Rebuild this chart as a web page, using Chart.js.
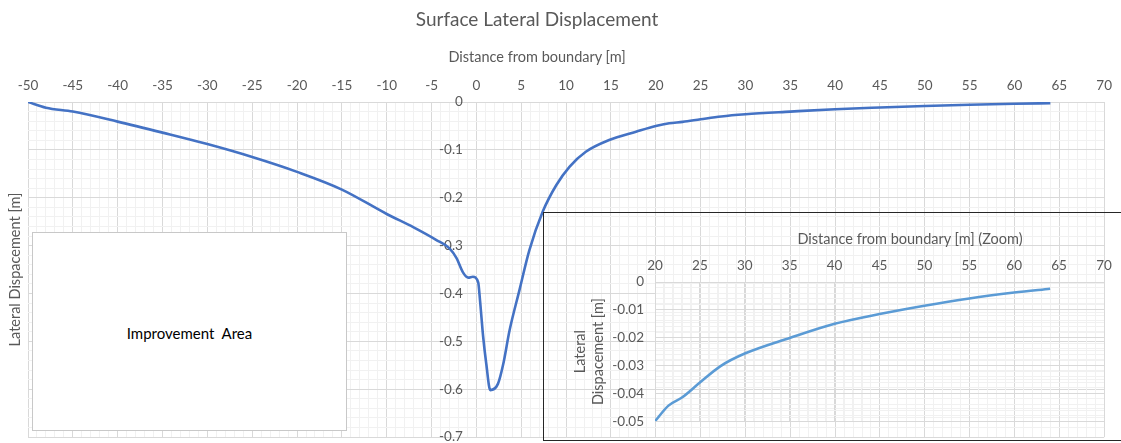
<!DOCTYPE html>
<html><head><meta charset="utf-8">
<script src="https://cdn.jsdelivr.net/npm/chart.js@4.4.1/dist/chart.umd.min.js"></script>
<style>
html,body{margin:0;padding:0;background:#fff;overflow:hidden;}
#wrap{position:relative;width:1121px;height:443px;font-family:Lato,"Open Sans",sans-serif;}
#main{position:absolute;left:0;top:0;}
.txt{position:absolute;color:#595959;white-space:pre;text-align:center;}
#title{left:337px;width:400px;top:8px;font-size:19px;line-height:22px;}
#xtitle{left:337px;width:400px;top:48px;font-size:14.5px;line-height:18px;}
#improve{position:absolute;left:32px;top:232px;width:313px;height:197px;border:1px solid #C8C8C8;background:#fff;}
#improve span{position:absolute;left:0;width:100%;top:91px;text-align:center;font-size:15px;color:#000;white-space:pre;}
#inset{position:absolute;left:543px;top:212px;width:600px;height:227px;border:1px solid #262626;}
#insetCanvas{position:absolute;left:0;top:0;}
#ititle{left:710px;width:400px;top:230px;font-size:14.5px;line-height:18px;}
</style></head>
<body>
<div id="wrap">
  <canvas id="main" width="1121" height="443"></canvas>
  <div class="txt" id="title">Surface Lateral Displacement</div>
  <div class="txt" id="xtitle">Distance from boundary [m]</div>
  <div id="improve"><span>Improvement  Area</span></div>
  <div id="inset"><canvas id="insetCanvas" width="577" height="227"></canvas></div>
  <div class="txt" id="ititle">Distance from boundary [m] (Zoom)</div>
</div>
<script>
// ---- data ----
const distance = [-50,-48,-45,-40,-35,-30,-25,-20,-15,-10,-7,-4.5,-3,-2.2,-1.5,-0.9,-0.4,0.2,0.4,0.75,1.1,1.55,2.4,3.0,3.7,4.8,5.9,7.4,8.9,10.4,12.2,14.8,17.8,20,21.5,23,25,27.3,30,35,40,45,50,55,60,64];
const displacement = [0,-0.012,-0.020,-0.041,-0.064,-0.088,-0.115,-0.146,-0.183,-0.234,-0.262,-0.288,-0.306,-0.327,-0.356,-0.367,-0.365,-0.377,-0.414,-0.49,-0.547,-0.602,-0.589,-0.547,-0.477,-0.393,-0.31,-0.229,-0.174,-0.135,-0.104,-0.0795,-0.062,-0.050,-0.0444,-0.0415,-0.0361,-0.0302,-0.0257,-0.0201,-0.0150,-0.0115,-0.0085,-0.0059,-0.0038,-0.0024];
const mainXTicks = [-50,-45,-40,-35,-30,-25,-20,-15,-10,-5,0,5,10,15,20,25,30,35,40,45,50,55,60,65,70];
const mainYTicks = ['0','-0.1','-0.2','-0.3','-0.4','-0.5','-0.6','-0.7'];
const zoomXTicks = [20,25,30,35,40,45,50,55,60,65,70];
const zoomYTicks = ['0','-0.01','-0.02','-0.03','-0.04','-0.05'];
const zoomStart = 20;

const TXT = '#595959', MAJOR = '#D9D9D9', MINOR = '#F1F1F1';
const tickFont = {family: 'Lato', size: 13.5, lineHeight: 1.15};
const near = (a, b) => Math.abs(a - b) < 1e-6;

const mainPts = distance.map((x, i) => ({x, y: displacement[i]}));
const zoomPts = mainPts.filter(p => p.x >= zoomStart);

new Chart(document.getElementById('main'), {
  type: 'line',
  data: {datasets: [{data: mainPts, borderColor: '#4472C4', borderWidth: 2.6, pointRadius: 0,
    cubicInterpolationMode: 'monotone', fill: false, xAxisID: 'x', yAxisID: 'y'}]},
  options: {
    responsive: false, animation: false, devicePixelRatio: 1,
    layout: {padding: {left: 0, top: 76, right: 16, bottom: 6}},
    plugins: {legend: {display: false}, tooltip: {enabled: false}, title: {display: false}},
    scales: {
      x: {type: 'linear', position: 'top', min: -50, max: 70,
        afterFit: s => { s.height = 26; },
        ticks: {stepSize: 1, autoSkip: false, maxRotation: 0, minRotation: 0, padding: 9, color: TXT, font: tickFont,
          callback: v => { const t = mainXTicks.find(m => near(m, v)); return t === undefined ? '' : String(t); }},
        grid: {drawTicks: false, color: c => mainXTicks.some(m => near(m, c.tick.value)) ? MAJOR : MINOR},
        border: {color: MAJOR}},
      y: {type: 'linear', position: {x: -1.5}, min: -0.7, max: 0,
        afterFit: s => { s.paddingTop = 0; s.paddingBottom = 0; },
        ticks: {stepSize: 0.02, autoSkip: false, padding: 0, color: TXT, font: tickFont,
          callback: v => { const t = mainYTicks.find(m => near(Number(m), v)); return t === undefined ? '' : t; }},
        grid: {drawTicks: false, color: c => mainYTicks.some(m => near(Number(m), c.tick.value)) ? MAJOR : MINOR},
        border: {display: false}},
      yt: {type: 'linear', position: 'left', min: -0.7, max: 0,
        afterFit: s => { s.width = 28; },
        ticks: {display: false}, grid: {display: false, drawTicks: false}, border: {display: false},
        title: {display: true, text: 'Lateral Dispacement [m]', color: TXT, padding: {top: 7, bottom: 2},
          font: {family: 'Lato', size: 14.5, lineHeight: 1.2}}}
    }
  }
});

new Chart(document.getElementById('insetCanvas'), {
  type: 'line',
  data: {datasets: [{data: zoomPts, borderColor: '#5B9BD5', borderWidth: 2.6, pointRadius: 0,
    cubicInterpolationMode: 'monotone', fill: false}]},
  options: {
    responsive: false, animation: false, devicePixelRatio: 1,
    layout: {padding: {left: 0, top: 43, right: 17, bottom: 18}},
    plugins: {legend: {display: false}, tooltip: {enabled: false}},
    scales: {
      x: {type: 'linear', position: 'top', min: 20, max: 70,
        afterFit: s => { s.height = 26; },
        ticks: {stepSize: 1, autoSkip: false, maxRotation: 0, minRotation: 0, padding: 9, color: TXT, font: tickFont,
          callback: v => { const t = zoomXTicks.find(m => near(m, v)); return t === undefined ? '' : String(t); }},
        grid: {drawTicks: false, color: c => zoomXTicks.some(m => near(m, c.tick.value)) ? MAJOR : MINOR},
        border: {color: MAJOR}},
      y: {type: 'linear', position: 'left', min: -0.05, max: 0,
        afterFit: s => { s.width = 111; },
        ticks: {stepSize: 0.002, autoSkip: false, padding: 11, color: TXT, font: tickFont,
          callback: v => { const t = zoomYTicks.find(m => near(Number(m), v)); return t === undefined ? '' : t; }},
        grid: {drawTicks: false, color: c => zoomYTicks.some(m => near(Number(m), c.tick.value)) ? MAJOR : MINOR},
        border: {color: MAJOR},
        title: {display: true, text: ['Lateral', 'Dispacement [m]'], color: TXT, padding: {top: 27, bottom: 0},
          font: {family: 'Lato', size: 14.5, lineHeight: 1.25}}}
    }
  }
});
</script>
</body></html>
